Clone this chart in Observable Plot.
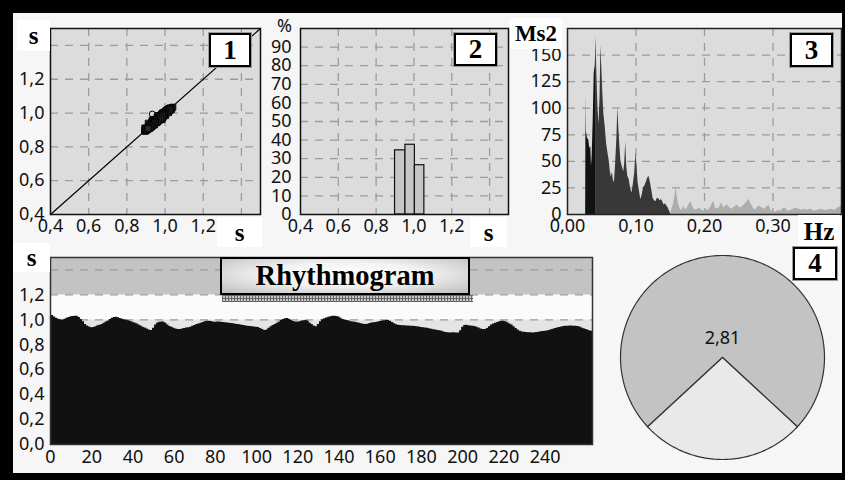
<!DOCTYPE html>
<html><head><meta charset="utf-8">
<script src="https://cdn.jsdelivr.net/npm/d3@7"></script>
<script src="https://cdn.jsdelivr.net/npm/@observablehq/plot@0.6"></script>
<style>
body{margin:0;background:#000;}
#root{position:relative;width:845px;height:480px;background:#000;overflow:hidden;}
#inner{position:absolute;left:13px;top:13px;width:829px;height:460px;background:#f6f6f6;}
.lbl{position:absolute;background:#fff;font-family:"Liberation Serif",serif;font-weight:bold;color:#000;display:flex;align-items:center;justify-content:center;line-height:1;}
.num{position:absolute;background:#fff;border:2px solid #000;box-shadow:0 0 0 1px #9a9a9a;font-family:"Liberation Serif",serif;font-weight:bold;font-size:27px;display:flex;align-items:center;justify-content:center;box-sizing:border-box;line-height:1;}
.txt{position:absolute;font-family:"Noto Sans",sans-serif;font-size:18px;color:#111;line-height:1;}
</style></head><body><div id="root"><div id="inner"></div></div>
<script>
// ---------- data ----------
const rr = [
1.041,1.035,1.022,1.012,1.005,1.001,0.999,1.004,1.012,1.019,
1.024,1.027,1.029,1.028,1.018,1.003,0.985,0.962,0.950,0.942,
0.936,0.938,0.944,0.952,0.957,0.963,0.972,0.983,0.991,1.002,
1.012,1.019,1.021,1.016,1.010,1.004,1.000,0.996,0.992,0.986,
0.980,0.975,0.968,0.959,0.950,0.941,0.935,0.926,0.918,0.914,
0.932,0.958,0.974,0.980,0.983,0.982,0.972,0.958,0.946,0.940,
0.932,0.926,0.922,0.923,0.927,0.930,0.934,0.936,0.941,0.948,
0.955,0.962,0.967,0.973,0.979,0.984,0.988,0.989,0.986,0.983,
0.981,0.982,0.983,0.980,0.978,0.976,0.975,0.973,0.971,0.968,
0.965,0.962,0.960,0.957,0.954,0.951,0.948,0.946,0.944,0.942,
0.940,0.938,0.930,0.922,0.914,0.918,0.932,0.945,0.955,0.962,
0.972,0.983,0.994,1.003,1.008,1.010,1.005,0.995,0.986,0.982,
0.982,0.985,0.990,0.993,0.994,0.990,0.975,0.962,0.950,0.945,
0.962,0.985,1.000,1.008,1.014,1.020,1.025,1.028,1.029,1.027,
1.022,1.012,1.003,0.998,0.994,0.990,0.985,0.982,0.980,0.976,
0.972,0.968,0.964,0.962,0.965,0.970,0.974,0.976,0.978,0.982,
0.986,0.990,0.993,0.995,0.994,0.988,0.978,0.968,0.960,0.956,
0.955,0.953,0.952,0.951,0.950,0.949,0.948,0.947,0.945,0.942,
0.939,0.936,0.935,0.932,0.928,0.924,0.921,0.918,0.915,0.912,
0.908,0.903,0.899,0.896,0.895,0.896,0.897,0.895,0.894,0.912,
0.940,0.955,0.957,0.953,0.950,0.948,0.946,0.940,0.934,0.927,
0.923,0.922,0.930,0.945,0.958,0.966,0.972,0.978,0.984,0.988,
0.988,0.984,0.976,0.966,0.958,0.945,0.930,0.918,0.908,0.903,
0.900,0.898,0.897,0.896,0.895,0.896,0.898,0.901,0.904,0.907,
0.908,0.911,0.915,0.920,0.925,0.930,0.935,0.939,0.943,0.946,
0.948,0.949,0.950,0.950,0.949,0.948,0.947,0.942,0.935,0.928,
0.922,0.916,0.911,0.908];

const poincareExtraX = [0.933];
const poincareExtraY = [0.994];
const identityLine = [0.4, 1.5];

const histEdges = [0.90, 0.955, 1.005, 1.055];
const histPct = [34.5, 37.5, 26.5];

const vlfF = [0.0265,0.027,0.0275,0.029,0.031,0.0325,0.034,0.035,0.036,0.0375,0.039,0.0405,0.041];
const vlfP = [0,112,78,72,70,62,64,45,55,88,133,140,150];
const lfF = [0.041,0.0415,0.043,0.0445,0.046,0.0475,0.0488,0.050,0.0515,0.053,0.055,0.057,0.059,0.061,0.0625,0.064,0.0655,0.067,0.0685,0.070,0.072,0.0735,0.075,0.0765,0.078,0.080,0.082,0.0835,0.085,0.0865,0.088,0.090,0.092,0.094,0.096,0.098,0.100,0.1015,0.103,0.105,0.107,0.109,0.111,0.113,0.115,0.117,0.119,0.121,0.123,0.125,0.127,0.129,0.131,0.133,0.135,0.137,0.139,0.141,0.143,0.145,0.147,0.149,0.151];
const lfP = [150,168,130,100,85,110,159,140,115,95,83,67,58,50,40,35,40,32,30,45,70,101,80,64,50,45,40,48,68,45,36,33,25,20,28,38,58,45,30,22,14,18,25,27,30,34,36,30,23,15,13,12,15,15,13,14,12,9,10,8,6,3,0];
const hfF = [0.151,0.152,0.155,0.1575,0.1585,0.160,0.162,0.164,0.166,0.168,0.170,0.1725,0.175,0.178,0.1805,0.183,0.186,0.190,0.193,0.196,0.200,0.203,0.206,0.209,0.212,0.214,0.216,0.219,0.222,0.225,0.228,0.231,0.234,0.237,0.240,0.244,0.248,0.252,0.255,0.258,0.262,0.265,0.268,0.271,0.274,0.277,0.280,0.284,0.288,0.291,0.294,0.297,0.300,0.304,0.308,0.311,0.314,0.318,0.322,0.326,0.330,0.334,0.338,0.342,0.346,0.350,0.355,0.360,0.365,0.370,0.375,0.380,0.385,0.390,0.395,0.400];
const hfP = [0,4,10,20,27,18,10,6,4,5,8,4,6,10,12,7,4,5,6,4,3,5,4,7,11,12,6,5,7,11,6,8,9,6,5,7,9,6,7,9,12,14,10,6,4,6,8,6,5,7,9,4,3,2,4,3,5,6,3,4,5,6,5,4,5,4,5,3,4,5,4,4,5,4,6,8];

const pieValues = [2.81, 1];
const pieLabel = "2,81";

// tick labels shown (the ones at the top/right ends are covered by the unit boxes)
const sTicksX = [0.4,0.6,0.8,1.0,1.2];
const sTicksY = [0.4,0.6,0.8,1.0,1.2];
const sGrid = [0.6,0.8,1.0,1.2,1.4];
const pctTicks = [0,10,20,30,40,50,60,70,80,90];
const pctGrid = [10,20,30,40,50,60,70,80,90];
const msTicks = [0,25,50,75,100,125,150];
const msGrid = [25,50,75,100,125,150];
const hzTicks = [0,0.1,0.2,0.3];
const hzGrid = [0.1,0.2,0.3];
const rrTicks = [0,0.2,0.4,0.6,0.8,1.0,1.2];
const rrGrid = [1.0,1.2,1.4];
const beatTicks = [0,20,40,60,80,100,120,140,160,180,200,220,240];
const rrBands = [[0,1.0],[1.0,1.2],[1.2,1.5]];

// ---------- helpers ----------
const root = document.getElementById("root");
const comma = n => d => d.toFixed(n).replace(".", ",");
const base = {fontFamily:"'Noto Sans', sans-serif", fontSize:"18px", color:"#111", background:"transparent", overflow:"visible"};
const dash = {stroke:"#9c9c9c", strokeWidth:1.3, strokeDasharray:"8,7"};
function place(el, left, top){ el.style.position="absolute"; el.style.left=left+"px"; el.style.top=top+"px"; root.appendChild(el); }
function div(cls, html, l, t, w, h, extra){ const d=document.createElement("div"); d.className=cls; d.innerHTML=html; Object.assign(d.style,{position:"absolute",left:l+"px",top:t+"px",width:w+"px",height:h+"px"}, extra||{}); root.appendChild(d); return d; }

// ---------- panel 1: Poincare ----------
const poincare = rr.slice(0,-1).map((v,i)=>({x:v, y:rr[i+1]}));
const p1 = Plot.plot({
  width:275, height:250, marginLeft:50, marginRight:15, marginTop:28, marginBottom:36,
  style: base,
  x:{domain:[0.4,1.5], ticks:sTicksX, tickFormat:comma(1), tickSize:0, tickPadding:5, label:null},
  y:{domain:[0.4,1.5], ticks:sTicksY, tickFormat:comma(1), tickSize:0, tickPadding:6, label:null},
  marks:[
    Plot.frame({fill:"#dcdcdc"}),
    Plot.ruleX(sGrid, dash),
    Plot.ruleY(sGrid, dash),
    Plot.line(identityLine, {x:d=>d, y:d=>d, stroke:"#000", strokeWidth:1.2}),
    Plot.dot(poincare, {x:"x", y:"y", symbol:"square", r:3.4, fill:"#2a2a2a", stroke:"#000", strokeWidth:0.8}),
    Plot.dot(poincareExtraX, {x:d=>d, y:(d,i)=>poincareExtraY[i], r:3, fill:"none", stroke:"#000", strokeWidth:1}),
    Plot.frame({stroke:"#111", strokeWidth:1.5})
  ]
});
place(p1, 0, 0);

// ---------- panel 2: histogram ----------
const hist = histPct.map((p,i)=>({x1:histEdges[i], x2:histEdges[i+1], p}));
const p2 = Plot.plot({
  width:240, height:250, marginLeft:20, marginRight:12, marginTop:28, marginBottom:36,
  style: base,
  x:{domain:[0.4,1.5], ticks:sTicksX, tickFormat:comma(1), tickSize:0, tickPadding:5, label:null},
  y:{domain:[0,100], ticks:pctTicks, tickSize:0, tickPadding:9, label:null},
  marks:[
    Plot.frame({fill:"#dcdcdc"}),
    Plot.ruleX(sGrid, dash),
    Plot.ruleY(pctGrid, dash),
    Plot.rect(hist, {x1:"x1", x2:"x2", y1:0, y2:"p", fill:"#c6c6c6", stroke:"#111", strokeWidth:1.2}),
    Plot.frame({stroke:"#111", strokeWidth:1.5})
  ]
});
place(p2, 280, 0);

// ---------- panel 3: spectrum ----------
const toPts = (F,P)=>F.map((f,i)=>({f, p:P[i]}));
const p3 = Plot.plot({
  width:305, height:250, marginLeft:27, marginRight:4, marginTop:28, marginBottom:36,
  style: base,
  x:{domain:[0,0.4], ticks:hzTicks, tickFormat:comma(2), tickSize:0, tickPadding:5, label:null},
  y:{domain:[0,175], ticks:msTicks, tickSize:0, tickPadding:6, label:null},
  marks:[
    Plot.frame({fill:"#dcdcdc"}),
    Plot.ruleX(hzGrid, dash),
    Plot.ruleY(msGrid, dash),
    Plot.areaY(toPts(hfF,hfP), {x:"f", y:"p", fill:"#adadad"}),
    Plot.areaY(toPts(lfF,lfP), {x:"f", y:"p", fill:"#383838"}),
    Plot.areaY(toPts(vlfF,vlfP), {x:"f", y:"p", fill:"#121212"}),
    Plot.frame({stroke:"#222", strokeWidth:1.5})
  ]
});
place(p3, 540, 0);

// ---------- rhythmogram ----------
const rrData = rr.map((v,i)=>({i, v}));
const bandFills = ["#e4e4e4","#fbfbfb","#c3c3c3"];
const p4 = Plot.plot({
  width:600, height:240, marginLeft:50, marginRight:8, marginTop:17, marginBottom:36,
  style: base,
  x:{domain:[0, rr.length-1], ticks:beatTicks, tickSize:0, tickPadding:6, label:null},
  y:{domain:[0,1.5], ticks:rrTicks, tickFormat:comma(1), tickSize:0, tickPadding:6, label:null},
  marks:[
    ...rrBands.map((b,k)=>Plot.rect([b], {x1:0, x2:rr.length-1, y1:d=>d[0], y2:d=>d[1], fill:bandFills[k]})),
    Plot.ruleY(rrGrid, dash),
    Plot.areaY(rrData, {x:"i", y:"v", fill:"#111", curve:"step"}),
    Plot.frame({stroke:"#333", strokeWidth:1.5})
  ]
});
place(p4, 0, 240);

// ---------- pie ----------
const total = d3.sum(pieValues);
const lightSpan = 2*Math.PI*pieValues[1]/total;
const arcs = d3.pie().sort(null).startAngle(Math.PI + lightSpan/2).endAngle(Math.PI + lightSpan/2 + 2*Math.PI)(pieValues);
function slicePoly(a){
  const pts=[{x:0,y:0}];
  const n=Math.max(2, Math.ceil((a.endAngle-a.startAngle)/0.02));
  for(let k=0;k<=n;k++){ const t=a.startAngle+(a.endAngle-a.startAngle)*k/n; pts.push({x:Math.sin(t), y:Math.cos(t)}); }
  pts.push({x:0,y:0});
  return pts;
}
const sliceFills = ["#c3c3c3","#e9e9e9"];
const p5 = Plot.plot({
  width:210, height:210, margin:3,
  style: {...base, fontSize:"18px"},
  x:{domain:[-1,1], axis:null},
  y:{domain:[-1,1], axis:null},
  marks:[
    ...arcs.map((a,k)=>Plot.line(slicePoly(a), {x:"x", y:"y", fill:sliceFills[k], stroke:"#333", strokeWidth:1.2, strokeLinejoin:"round"})),
    Plot.text([pieValues[0]], {x:0, y:0, dy:-19, text:()=>pieLabel, fill:"#111", fontSize:18})
  ]
});
place(p5, 616.7, 252.3);

// ---------- overlay labels ----------
div("lbl","s", 17,20,33,31,{fontSize:"25px"});
div("lbl","s", 217,217,45,30,{fontSize:"25px"});
div("lbl","s", 470,217,37,30,{fontSize:"25px"});
div("lbl","Ms2", 510,18,52,31,{fontSize:"23px"});
div("lbl","Hz", 798,215,42,32,{fontSize:"25px"});
div("lbl","s", 13,243,37,29,{fontSize:"25px"});
div("txt","%", 272,16,20,18,{textAlign:"right"});
div("num","1", 209,33,42,34);
div("num","2", 454,33,43,33);
div("num","3", 790,33,43,34);
div("num","4", 793,247,44,33);
// rhythmogram title
div("", "", 222,295,251,7,{background:"repeating-linear-gradient(90deg,#666 0 1px,transparent 1px 3px),repeating-linear-gradient(0deg,#666 0 1px,#c8c8c8 1px 3px)"});
div("", "Rhythmogram", 220,257,250,38,{boxSizing:"border-box",border:"2px solid #000",background:"radial-gradient(ellipse at 50% 45%, #ffffff 0%, #f2f2f2 45%, #bdbdbd 100%)",fontFamily:"'Liberation Serif',serif",fontWeight:"bold",fontSize:"28.5px",display:"flex",alignItems:"center",justifyContent:"center",lineHeight:"1",color:"#000"});
</script></body></html>
